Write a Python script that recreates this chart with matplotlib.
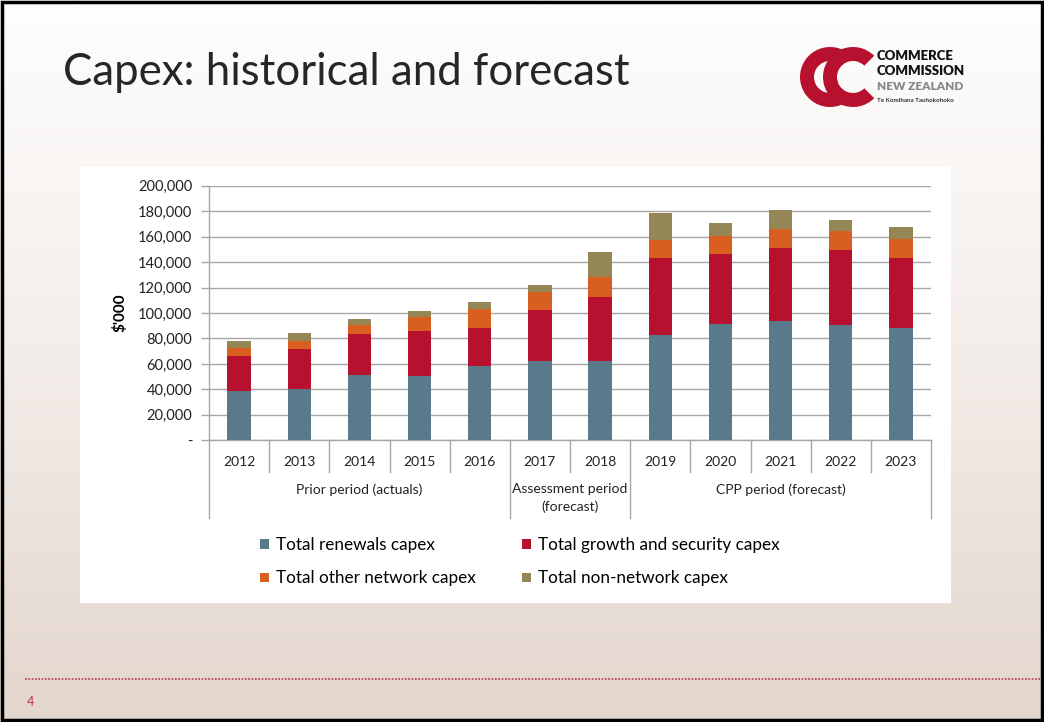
import numpy as np
import matplotlib as mpl
mpl.use("Agg")
import matplotlib.pyplot as plt
from matplotlib.patches import Rectangle, Wedge
from matplotlib.lines import Line2D
import matplotlib.transforms as mtransforms

plt.rcParams['font.family'] = ['Lato', 'DejaVu Sans']

# データ ($'000)
years = ['2012', '2013', '2014', '2015', '2016', '2017', '2018',
         '2019', '2020', '2021', '2022', '2023']
renewals = [38.7, 40.6, 51.6, 50.5, 58.4, 62.6, 62.6, 82.5, 91.1, 93.5, 90.3, 88.0]
growth = [27.3, 30.9, 32.2, 35.4, 29.6, 39.8, 49.7, 60.7, 55.2, 57.3, 59.2, 55.2]
other_network = [6.8, 6.5, 6.5, 11.0, 15.4, 14.4, 16.2, 14.1, 14.4, 15.2, 14.6, 15.2]
non_network = [5.5, 6.6, 5.2, 4.4, 5.5, 5.2, 19.1, 21.5, 9.7, 14.6, 8.7, 8.9]
series_names = ['Total renewals capex', 'Total growth and security capex',
                'Total other network capex', 'Total non-network capex']
series_colors = ['#587a8a', '#b8102f', '#d95f20', '#958755']
periods = ['Prior period (actuals)', 'Assessment period\n(forecast)', 'CPP period (forecast)']
period_sizes = [5, 2, 5]
y_ticks = [0, 20000, 40000, 60000, 80000, 100000, 120000, 140000, 160000, 180000, 200000]

W, H = 1044, 722
fig = plt.figure(figsize=(W / 100, H / 100), dpi=100)

# 背景グラデーション
bg = fig.add_axes([0, 0, 1, 1])
grad = np.linspace(0, 1, 256).reshape(-1, 1)
cmap = mpl.colors.LinearSegmentedColormap.from_list('bg', ['#fefefe', '#f3ede9', '#e3d6cd'])
bg.imshow(grad, aspect='auto', cmap=cmap, extent=[0, W, H, 0])
bg.set_xlim(0, W)
bg.set_ylim(H, 0)
bg.axis('off')

# 枠線
bg.add_patch(Rectangle((2, 2), W - 4, H - 4, fill=False, edgecolor='black', linewidth=2.5))

# タイトル
bg.text(63, 85, 'Capex: historical and forecast', fontsize=31.5, color='#262626',
        va='baseline', ha='left', fontweight='normal')

# ロゴ
for cx in [830, 853]:
    bg.add_patch(Wedge((cx, 77), 30, 45, 315, width=14, facecolor='#b8102f', edgecolor='none'))
bg.text(877, 56, 'COMMERCE', fontsize=9.5, fontweight='heavy', color='#111111', va='center')
bg.text(877, 71, 'COMMISSION', fontsize=9.5, fontweight='heavy', color='#111111', va='center')
bg.text(877, 86, 'NEW ZEALAND', fontsize=8.5, fontweight='heavy', color='#888888', va='center')
bg.text(877, 100, 'Te Komihana Tauhokohoko', fontsize=4.5, fontweight='bold', color='#333333', va='center')

# 白パネル
bg.add_patch(Rectangle((80, 166), 871, 437, facecolor='white', edgecolor='none'))

# フッター
bg.plot([25, 1040], [679, 679], color='#c0304a', linestyle=(0, (1, 1)), linewidth=1.2)
bg.text(27, 702, '4', fontsize=9, color='#c0304a', va='center', ha='left')

# グラフ
x0, x1 = 209, 931
ytop, ybot = 185.7, 440.3
ax = fig.add_axes([x0 / W, 1 - ybot / H, (x1 - x0) / W, (ybot - ytop) / H])
x = np.arange(len(years))
bottom = np.zeros(len(years))
for vals, name, col in zip([renewals, growth, other_network, non_network], series_names, series_colors):
    v = np.array(vals) * 1000
    ax.bar(x, v, width=0.39, bottom=bottom, color=col, label=name, zorder=3)
    bottom += v

ax.set_xlim(-0.5, len(years) - 0.5)
ax.set_ylim(0, 200000)
ax.set_yticks(y_ticks)
ax.set_yticklabels(['-' if t == 0 else f'{t:,}' for t in y_ticks], fontsize=10.5, color='#222222')
ax.yaxis.grid(True, color='#a6a6a6', linewidth=1, zorder=0)
ax.tick_params(axis='y', length=6, color='#a6a6a6', width=1, pad=6)
ax.set_xticks([])
for s in ['top', 'right']:
    ax.spines[s].set_visible(False)
for s in ['left', 'bottom']:
    ax.spines[s].set_color('#a6a6a6')
    ax.spines[s].set_linewidth(1)
ax.set_ylabel("$'000", fontsize=11, fontweight='bold', labelpad=8)

# カテゴリ軸 (2段)
trans = mtransforms.blended_transform_factory(ax.transData, ax.transAxes)
axh = ybot - ytop
for i, yr in enumerate(years):
    ax.text(i, -22 / axh, yr, transform=trans, ha='center', va='center', fontsize=10, color='#222222')
bounds = np.cumsum([0] + period_sizes) - 0.5
for i in range(len(years) + 1):
    b = i - 0.5
    depth = 78 if b in bounds else 32
    ax.add_line(Line2D([b, b], [0, -depth / axh], transform=trans, color='#a6a6a6',
                       linewidth=1, clip_on=False))
for lab, lo, hi in zip(periods, bounds[:-1], bounds[1:]):
    ax.text((lo + hi) / 2, -43 / axh, lab, transform=trans, ha='center', va='top',
            fontsize=10, color='#222222', linespacing=1.5)

# 凡例 (行優先の並びにする)
handles = [Rectangle((0, 0), 1, 1, facecolor=c) for c in series_colors]
order = [0, 2, 1, 3]
fig.legend([handles[i] for i in order], [series_names[i] for i in order],
           loc='upper left', bbox_to_anchor=(245 / W, 1 - 522 / H),
           ncol=2, frameon=False, fontsize=12.3, handlelength=0.5, handleheight=0.5,
           handletextpad=0.4, columnspacing=2.75, labelspacing=1.0)

plt.savefig('out.png', dpi=100)
plt.close('all')
